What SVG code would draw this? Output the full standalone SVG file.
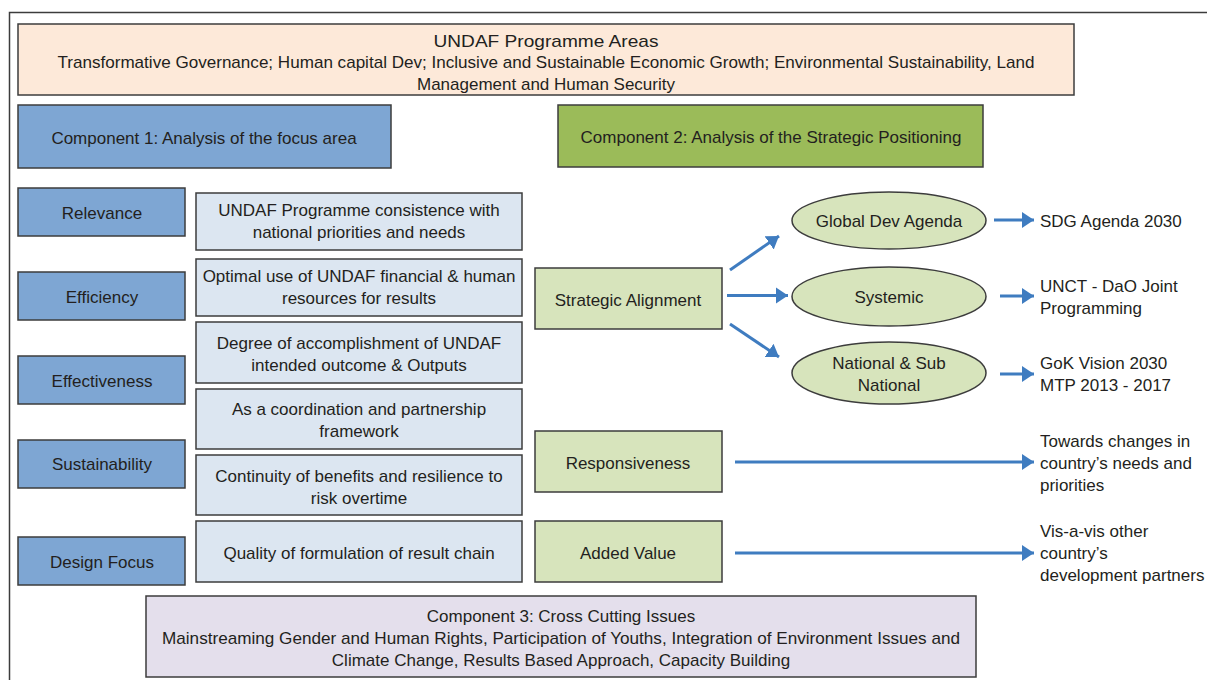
<svg xmlns="http://www.w3.org/2000/svg" width="1207" height="680" viewBox="0 0 1207 680">
<style>
text{font-family:"Liberation Sans",Arial,sans-serif;font-size:17px;fill:#231f20;text-anchor:middle}
.l{text-anchor:start}
.box{stroke:#3c3c3c;stroke-width:1.5}
.peach{fill:#fde9d9}
.blue{fill:#7ea6d3}
.lblue{fill:#dce6f1}
.green{fill:#9bbb59}
.lgreen{fill:#d7e4bc}
.lav{fill:#e4dfec}
.conn{stroke:#3f7cc0;stroke-width:3;fill:none;marker-end:url(#ah)}
</style>
<defs>
<marker id="ah" markerUnits="userSpaceOnUse" markerWidth="14" markerHeight="18" refX="12" refY="9" orient="auto">
<path d="M0,1 L12,9 L0,17 Z" fill="#3f7cc0"/>
</marker>
</defs>
<rect width="1207" height="680" fill="#fff"/>
<path d="M1207,12.5 H9.5 V680" fill="none" stroke="#3c3c3c" stroke-width="1.5"/>

<g id="programme-areas">
<rect class="box peach" x="18" y="24" width="1056" height="71"/>
<text x="546" y="46.5" font-size="20" textLength="225" lengthAdjust="spacingAndGlyphs">UNDAF Programme Areas</text>
<text x="546" y="68" textLength="977" lengthAdjust="spacingAndGlyphs">Transformative Governance; Human capital Dev; Inclusive and Sustainable Economic Growth; Environmental Sustainability, Land</text>
<text x="546" y="90">Management and Human Security</text>
</g>

<g id="component1">
<rect class="box blue" x="18" y="105" width="373" height="63"/>
<text x="204" y="143.5">Component 1: Analysis of the focus area</text>
</g>
<g id="component2">
<rect class="box green" x="558" y="105" width="425" height="62"/>
<text x="771" y="143">Component 2: Analysis of the Strategic Positioning</text>
</g>

<g id="relevance"><rect class="box blue" x="18" y="188" width="167" height="48"/><text x="102" y="219">Relevance</text></g>
<g id="efficiency"><rect class="box blue" x="18" y="272" width="167" height="48"/><text x="102" y="303">Efficiency</text></g>
<g id="effectiveness"><rect class="box blue" x="18" y="356" width="167" height="48"/><text x="102" y="387">Effectiveness</text></g>
<g id="sustainability"><rect class="box blue" x="18" y="440" width="167" height="48"/><text x="102" y="470">Sustainability</text></g>
<g id="design-focus"><rect class="box blue" x="18" y="537" width="167" height="48"/><text x="102" y="568">Design Focus</text></g>

<g id="consistence"><rect class="box lblue" x="196" y="193" width="326" height="57"/><text x="359" y="216">UNDAF Programme consistence with</text><text x="359" y="238">national priorities and needs</text></g>
<g id="optimal-use"><rect class="box lblue" x="196" y="259" width="326" height="57"/><text x="359" y="282">Optimal use of UNDAF financial &amp; human</text><text x="359" y="304">resources for results</text></g>
<g id="accomplishment"><rect class="box lblue" x="196" y="322" width="326" height="61"/><text x="359" y="349">Degree of accomplishment of UNDAF</text><text x="359" y="371">intended outcome &amp; Outputs</text></g>
<g id="coordination"><rect class="box lblue" x="196" y="389" width="326" height="60"/><text x="359" y="415">As a coordination and partnership</text><text x="359" y="437">framework</text></g>
<g id="continuity"><rect class="box lblue" x="196" y="455" width="326" height="60"/><text x="359" y="482">Continuity of benefits and resilience to</text><text x="359" y="504">risk overtime</text></g>
<g id="quality"><rect class="box lblue" x="196" y="521" width="326" height="61"/><text x="359" y="559">Quality of formulation of result chain</text></g>

<g id="strategic-alignment"><rect class="box lgreen" x="535" y="268" width="187" height="61"/><text x="628" y="306">Strategic Alignment</text></g>
<g id="responsiveness"><rect class="box lgreen" x="535" y="431" width="187" height="61"/><text x="628" y="469">Responsiveness</text></g>
<g id="added-value"><rect class="box lgreen" x="535" y="521" width="187" height="61"/><text x="628" y="559">Added Value</text></g>

<g id="global-dev"><ellipse class="box lgreen" cx="889" cy="220.5" rx="97" ry="28.5"/><text x="889" y="227">Global Dev Agenda</text></g>
<g id="systemic"><ellipse class="box lgreen" cx="889" cy="296.5" rx="97" ry="29.5"/><text x="889" y="303">Systemic</text></g>
<g id="national"><ellipse class="box lgreen" cx="889" cy="373" rx="97" ry="31"/><text x="889" y="369">National &amp; Sub</text><text x="889" y="391">National</text></g>

<g id="sdg"><text class="l" x="1040" y="227">SDG Agenda 2030</text></g>
<g id="unct"><text class="l" x="1040" y="292">UNCT - DaO Joint</text><text class="l" x="1040" y="314">Programming</text></g>
<g id="gok"><text class="l" x="1040" y="369">GoK Vision 2030</text><text class="l" x="1040" y="391">MTP 2013 - 2017</text></g>
<g id="towards"><text class="l" x="1040" y="447">Towards changes in</text><text class="l" x="1040" y="469">country’s needs and</text><text class="l" x="1040" y="491">priorities</text></g>
<g id="visavis"><text class="l" x="1040" y="537">Vis-a-vis other</text><text class="l" x="1040" y="559">country’s</text><text class="l" x="1040" y="581">development partners</text></g>

<g id="component3">
<rect class="box lav" x="146" y="596" width="830" height="81"/>
<text x="561" y="622">Component 3: Cross Cutting Issues</text>
<text x="561" y="644" textLength="798" lengthAdjust="spacingAndGlyphs">Mainstreaming Gender and Human Rights, Participation of Youths, Integration of Environment Issues and</text>
<text x="561" y="666">Climate Change, Results Based Approach, Capacity Building</text>
</g>

<g id="connectors">
<line class="conn" x1="730" y1="270" x2="779" y2="236"/>
<line class="conn" x1="727" y1="295.5" x2="788" y2="295.5"/>
<line class="conn" x1="730" y1="324" x2="779" y2="357"/>
<line class="conn" x1="994" y1="220" x2="1034" y2="220"/>
<line class="conn" x1="1000" y1="296" x2="1034" y2="296"/>
<line class="conn" x1="1000" y1="374" x2="1034" y2="374"/>
<line class="conn" x1="735" y1="462" x2="1034" y2="462"/>
<line class="conn" x1="735" y1="553" x2="1034" y2="553"/>
</g>
</svg>
